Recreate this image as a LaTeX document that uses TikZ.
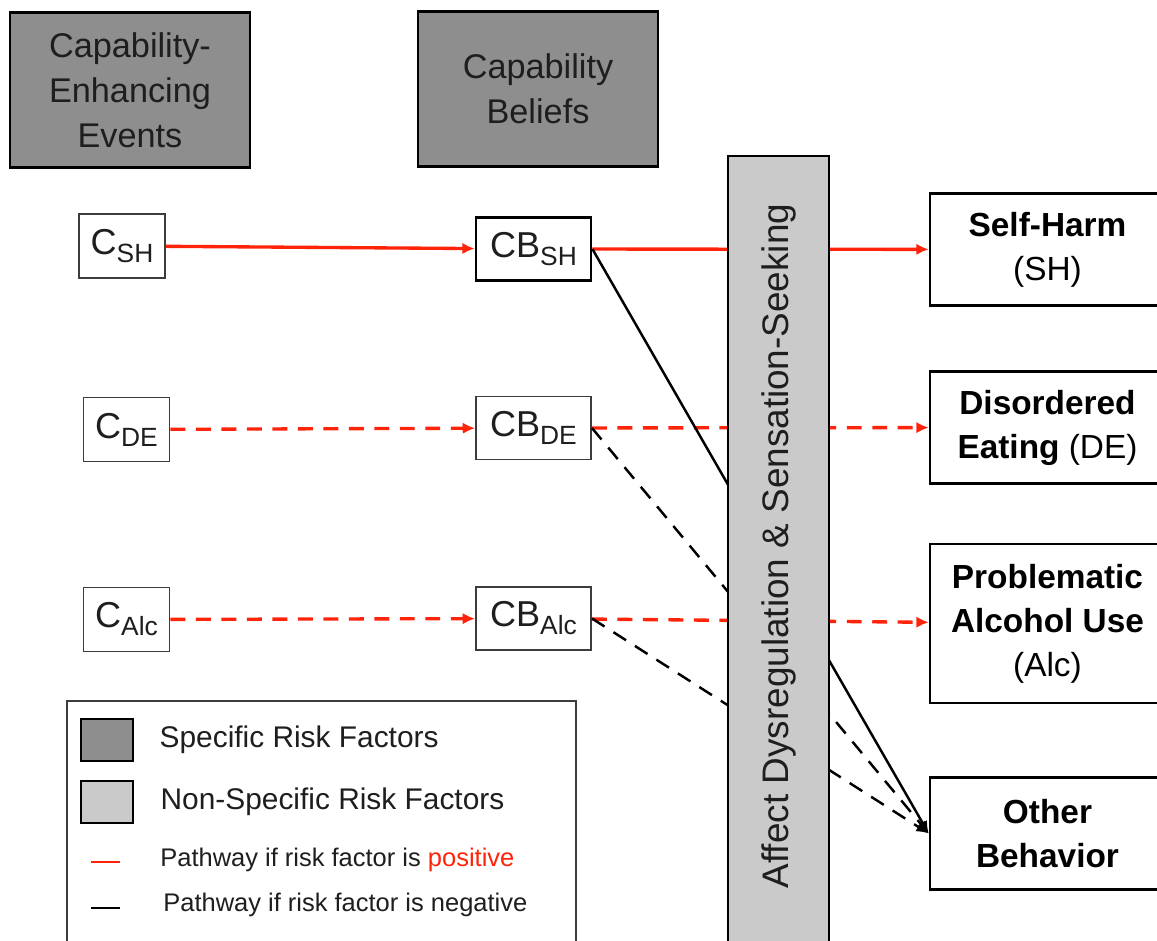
\documentclass[tikz,border=0pt]{standalone}
\usepackage{fontspec}
\setmainfont{Liberation Sans}
\usetikzlibrary{arrows.meta,positioning}
\definecolor{hdrgray}{RGB}{142,142,142}
\definecolor{affgray}{RGB}{202,202,202}
\definecolor{posred}{RGB}{255,35,10}
\definecolor{boxedge}{RGB}{60,60,60}
\definecolor{txtgray}{RGB}{30,30,30}
\newcommand{\lowsub}[1]{\raisebox{-0.42ex}{\fontsize{15}{15}\selectfont #1}}

\begin{document}
\begin{tikzpicture}[
  hdr/.style={draw=black, line width=1.7pt, fill=hdrgray, minimum width=4.8cm, minimum height=3.1cm, align=center, text=txtgray, font=\fontsize{19.5}{25.5}\selectfont},
  cbox/.style={draw=boxedge, line width=1.1pt, minimum width=1.72cm, minimum height=1.28cm, inner sep=0pt, text=txtgray, font=\fontsize{20.5}{24}\selectfont},
  cbbox/.style={cbox, minimum width=2.3cm, minimum height=1.26cm},
  outc/.style={draw=black, line width=1.5pt, minimum width=4.7cm, minimum height=2.24cm, align=center, font=\fontsize{19}{25}\selectfont},
  swatch/.style={draw=black, line width=1.5pt, minimum width=1.04cm, minimum height=0.84cm},
  lgtxt/.style={anchor=west, inner sep=0pt, text=txtgray, font=\fontsize{17}{20}\selectfont},
  lgpath/.style={anchor=west, inner sep=0pt, text=txtgray, font=\fontsize{14.5}{17}\selectfont},
  pospath/.style={draw=posred, line width=1.9pt, -{Latex[length=7pt,width=6.5pt]}},
  negpath/.style={draw=black, line width=1.4pt, -{Latex[length=7pt,width=6pt]}},
  dsh/.style={dash pattern=on 8.5pt off 6pt}
]
  \useasboundingbox (0,0) rectangle (23.14,18.82);

  %% Column headers
  \node[hdr] (cee)  at (2.6,17.02)  {Capability-\\Enhancing\\Events};
  \node[hdr] (cbel) at (10.76,17.04) {Capability\\Beliefs};

  %% Capability-enhancing events
  \node[cbox] (csh)  at (2.44,13.9)  {C\lowsub{SH}};
  \node[cbox] (cde)  at (2.53,10.23) {C\lowsub{DE}};
  \node[cbox] (calc) at (2.53,6.43)  {C\lowsub{Alc}};

  %% Capability beliefs
  \node[cbbox, draw=black, line width=1.6pt] (cbsh) at (10.67,13.84) {CB\lowsub{SH}};
  \node[cbbox] (cbde)  at (10.67,10.26) {CB\lowsub{DE}};
  \node[cbbox] (cbalc) at (10.67,6.45)  {CB\lowsub{Alc}};

  %% Outcomes
  \node[outc] (sh)  at (20.95,13.83) {\textbf{Self-Harm}\\(SH)};
  \node[outc] (de)  at (20.95,10.27) {\textbf{Disordered}\\\textbf{Eating} (DE)};
  \node[outc, minimum height=3.18cm] (alc) at (20.95,6.35) {\textbf{Problematic}\\\textbf{Alcohol Use}\\(Alc)};
  \node[outc] (oth) at (20.95,2.15)  {\textbf{Other}\\\textbf{Behavior}};

  %% Pathways
  \draw[pospath] (csh) -- (cbsh);
  \draw[pospath] (cbsh) -- (sh);
  \draw[pospath, dsh] (cde) -- (cbde);
  \draw[pospath, dsh] (cbde) -- (de);
  \draw[pospath, dsh] (calc) -- (cbalc);
  \draw[pospath, dsh] (cbalc) -- (alc);
  \draw[negpath] (cbsh.east) -- (oth.west);
  \draw[negpath, dsh] (cbde.east) -- (oth.west);
  \draw[negpath, dsh] (cbalc.east) -- (oth.west);

  %% Non-specific factor (drawn over the pathways)
  \node[draw=black, line width=1.5pt, fill=affgray, rotate=90, minimum width=16.1cm, minimum height=2.02cm, text=txtgray, font=\fontsize{21}{24}\selectfont] (aff) at (15.57,7.65) {\hspace*{0.5cm}Affect Dysregulation \& Sensation-Seeking};

  %% Legend
  \draw[draw=boxedge, line width=1pt] (1.34,4.8) rectangle (11.52,-0.5);
  \node[swatch, fill=hdrgray] (lgspec) at (2.14,4.02) {};
  \node[swatch, fill=affgray] (lgnons) at (2.14,2.78) {};
  \node[lgtxt, right=0.5cm of lgspec] (lgspect) {Specific Risk Factors};
  \node[lgtxt, right=0.52cm of lgnons] (lgnonst) {Non-Specific Risk Factors};
  \coordinate (lgpos) at (1.82,1.58);
  \coordinate (lgneg) at (1.82,0.66);
  \draw[posred, line width=1pt] (lgpos) -- ++(0.58,0);
  \draw[black, line width=1pt] (lgneg) -- ++(0.58,0);
  \node[lgpath] (lgpost) at (3.2,1.62) {Pathway if risk factor is \textcolor{posred}{positive}};
  \node[lgpath] (lgnegt) at (3.26,0.72) {Pathway if risk factor is negative};
\end{tikzpicture}
\end{document}
